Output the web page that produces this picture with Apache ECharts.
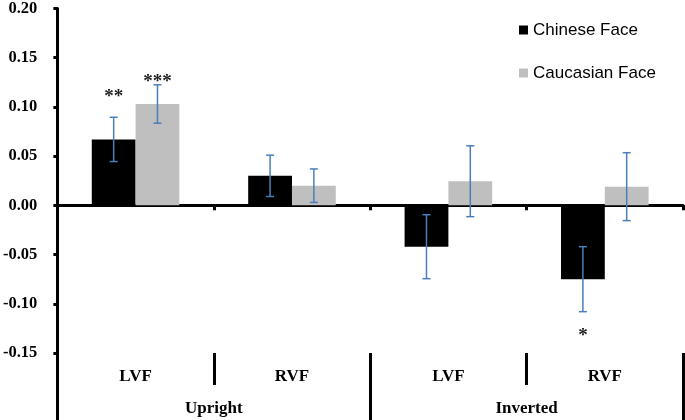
<!DOCTYPE html>
<html>
<head>
<meta charset="utf-8">
<script src="https://cdn.jsdelivr.net/npm/echarts@6/dist/echarts.min.js"></script>
<style>
html,body{margin:0;padding:0;background:#fff;}
#chart{width:685px;height:420px;}
</style>
</head>
<body>
<div id="chart"></div>
<script>
var categories = ['LVF', 'RVF', 'LVF', 'RVF'];
var groups = ['Upright', 'Inverted'];
var seriesNames = ['Chinese Face', 'Caucasian Face'];
var chinese = [0.067, 0.030, -0.042, -0.075];
var chineseErr = [0.0225, 0.021, 0.0325, 0.033];
var caucasian = [0.103, 0.020, 0.0245, 0.019];
var caucasianErr = [0.0195, 0.017, 0.036, 0.0345];
// significance marks: [category index, series index, text, y value]
var sigMarks = [[0, 0, '**', 0.114], [0, 1, '***', 0.129], [3, 0, '*', -0.129]];
var yTicks = { min: -0.15, max: 0.20, interval: 0.05 };

var chart = echarts.init(document.getElementById('chart'));
var barFrac = 0.28;
var errColor = '#4a7ebb';

function errData(vals, errs) {
  return vals.map(function (v, i) { return [i, v, errs[i]]; });
}
function makeErrRender(sign) {
  return function (params, api) {
    var c = api.value(0), v = api.value(1), e = api.value(2);
    var band = api.size([1, 0])[0];
    var x = api.coord([c, v])[0] + sign * band * barFrac / 2;
    var yt = api.coord([c, v + e])[1];
    var yb = api.coord([c, v - e])[1];
    var cap = 4;
    var st = { stroke: errColor, lineWidth: 1.5 };
    return {
      type: 'group',
      children: [
        { type: 'line', shape: { x1: x, y1: yt, x2: x, y2: yb }, style: st },
        { type: 'line', shape: { x1: x - cap, y1: yt, x2: x + cap, y2: yt }, style: st },
        { type: 'line', shape: { x1: x - cap, y1: yb, x2: x + cap, y2: yb }, style: st }
      ]
    };
  };
}

var serifFont = '"Liberation Serif","Times New Roman",serif';
var sansFont = '"Liberation Sans",Arial,sans-serif';

var option = {
  animation: false,
  backgroundColor: '#fff',
  grid: { left: 55, right: 2, top: 6.5, bottom: 67, containLabel: false },
  legend: {
    orient: 'vertical',
    left: 514,
    top: 15,
    itemWidth: 9,
    itemHeight: 9,
    itemGap: 23,
    icon: 'rect',
    textStyle: { fontFamily: sansFont, fontSize: 17, color: '#000', lineHeight: 20 },
    data: seriesNames
  },
  xAxis: [
    {
      type: 'category',
      data: categories,
      axisLine: { onZero: true, lineStyle: { color: '#000', width: 3 } },
      axisTick: { show: true, length: 5, lineStyle: { color: '#000', width: 3 } },
      axisLabel: { show: false },
      splitLine: { show: false }
    },
    {
      type: 'category',
      position: 'bottom',
      data: categories,
      axisLine: { show: false, onZero: false },
      axisTick: { show: true, length: 32, interval: 0, lineStyle: { color: '#000', width: 3 } },
      axisLabel: { show: true, margin: 15, fontFamily: serifFont, fontWeight: 'bold', fontSize: 17, color: '#000' },
      splitLine: { show: false }
    },
    {
      type: 'category',
      position: 'bottom',
      data: groups,
      axisLine: { show: false, onZero: false },
      axisTick: { show: true, length: 67, interval: 0, lineStyle: { color: '#000', width: 3 } },
      axisLabel: { show: true, margin: 47, fontFamily: serifFont, fontWeight: 'bold', fontSize: 17, color: '#000' },
      splitLine: { show: false }
    }
  ],
  yAxis: {
    type: 'value',
    min: yTicks.min,
    max: yTicks.max,
    interval: yTicks.interval,
    axisLine: { show: true, lineStyle: { color: '#000', width: 3 } },
    axisTick: { show: true, length: 4, lineStyle: { color: '#000', width: 3 } },
    axisLabel: {
      margin: 20,
      fontFamily: serifFont, fontWeight: 'bold', fontSize: 16.5, color: '#000',
      formatter: function (v) { return v.toFixed(2); }
    },
    splitLine: { show: false }
  },
  series: [
    {
      name: seriesNames[0], type: 'bar', data: chinese,
      barGap: '0%', barCategoryGap: '44%',
      itemStyle: { color: '#000000' }
    },
    {
      name: seriesNames[1], type: 'bar', data: caucasian,
      barGap: '0%', barCategoryGap: '44%',
      itemStyle: { color: '#bfbfbf' }
    },
    {
      type: 'custom', name: 'err0', data: errData(chinese, chineseErr),
      renderItem: makeErrRender(-1), z: 5, clip: false, silent: true
    },
    {
      type: 'custom', name: 'err1', data: errData(caucasian, caucasianErr),
      renderItem: makeErrRender(1), z: 5, clip: false, silent: true
    },
    {
      type: 'custom', name: 'sig', data: sigMarks,
      z: 6, clip: false, silent: true,
      renderItem: function (params, api) {
        var m = sigMarks[params.dataIndex];
        var band = api.size([1, 0])[0];
        var sign = m[1] === 0 ? -1 : 1;
        var p = api.coord([m[0], m[3]]);
        return {
          type: 'text',
          style: {
            text: m[2],
            x: p[0] + sign * band * barFrac / 2,
            y: p[1] + 4,
            align: 'center',
            verticalAlign: 'middle',
            font: 'bold 19px ' + serifFont,
            fill: '#222'
          }
        };
      }
    }
  ]
};
chart.setOption(option);
</script>
</body>
</html>
